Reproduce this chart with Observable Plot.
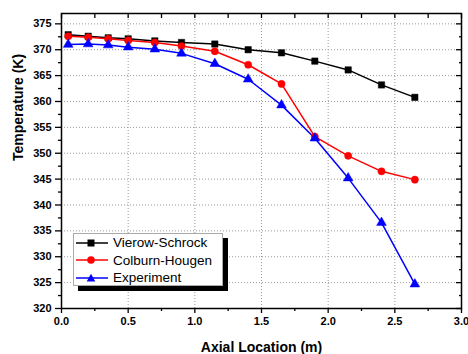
<!DOCTYPE html>
<html>
<head>
<meta charset="utf-8">
<script src="https://cdn.jsdelivr.net/npm/d3@7"></script>
<script src="https://cdn.jsdelivr.net/npm/@observablehq/plot@0.6"></script>
<style>
  body { margin: 0; background: #fff; }
  #wrap { position: relative; width: 468px; height: 354px; font-family: "Liberation Sans", Arial, sans-serif; }
  #legend { position: absolute; left: 73px; top: 233px; width: 150px; height: 53px; background: #fff; border: 1px solid #aaa; box-shadow: 5px 5px 0 #000; box-sizing: border-box; }
  .row { display: flex; align-items: center; height: 17.5px; font-size: 13.5px; line-height: 1; color: #000; }
  .row svg { margin-left: 1px; margin-right: 4px; }
</style>
</head>
<body>
<div id="wrap"></div>
<script>
// ---- data ----
const axialLocation = [0.05, 0.2, 0.35, 0.5, 0.7, 0.9, 1.15, 1.4, 1.65, 1.9, 2.15, 2.4, 2.65];
const vierowSchrock = [372.9, 372.6, 372.3, 372.1, 371.7, 371.4, 371.1, 370.0, 369.4, 367.8, 366.1, 363.2, 360.8];
const colburnHougen = [372.6, 372.4, 372.1, 371.8, 371.4, 370.7, 369.7, 367.1, 363.4, 353.2, 349.5, 346.5, 344.9];
const experiment    = [371.0, 371.1, 370.9, 370.5, 370.1, 369.3, 367.3, 364.3, 359.3, 352.9, 345.2, 336.6, 324.7];
const seriesNames = ["Vierow-Schrock", "Colburn-Hougen", "Experiment"];
const seriesColors = ["#000000", "#ff0000", "#0000ff"];
const seriesSymbols = ["square", "circle", "triangle"];
const xMajor = [0, 0.5, 1.0, 1.5, 2.0, 2.5, 3.0];
const xMinor = [0.25, 0.75, 1.25, 1.75, 2.25, 2.75];
const yMajor = [320, 325, 330, 335, 340, 345, 350, 355, 360, 365, 370, 375];
const yMinor = [322.5, 327.5, 332.5, 337.5, 342.5, 347.5, 352.5, 357.5, 362.5, 367.5, 372.5];

const seriesValues = [vierowSchrock, colburnHougen, experiment];
const rows = [];
seriesNames.forEach((name, i) => {
  axialLocation.forEach((x, j) => rows.push({ series: name, x, y: seriesValues[i][j] }));
});

const colorScale = { domain: seriesNames, range: seriesColors };
const font = "'Liberation Sans', Arial, sans-serif";

const chart = Plot.plot({
  width: 468,
  height: 354,
  marginLeft: 61,
  marginRight: 7,
  marginTop: 13,
  marginBottom: 46,
  style: { fontFamily: font, background: "#fff", color: "#000" },
  x: { domain: [0, 3] },
  y: { domain: [320, 377] },
  color: colorScale,
  symbol: { domain: seriesNames, range: seriesSymbols },
  marks: [
    Plot.gridX(xMajor, { stroke: "#999", strokeOpacity: 1, strokeDasharray: "1,2" }),
    Plot.gridY(yMajor, { stroke: "#999", strokeOpacity: 1, strokeDasharray: "1,2" }),
    Plot.line(rows, { x: "x", y: "y", z: "series", stroke: "series", strokeWidth: 1.5 }),
    Plot.dot(rows, { x: "x", y: "y", fill: "series", stroke: "series", symbol: "series", r: 3.6, strokeWidth: 0.5 }),
    Plot.frame({ stroke: "#000", strokeWidth: 1.5 }),
    // bottom / left outward ticks with labels
    Plot.axisX(xMajor, { anchor: "bottom", tickSize: 5, tickPadding: 4, tickFormat: d3.format(".1f"), fontWeight: "bold", fontSize: 11, label: null, strokeWidth: 1.3 }),
    Plot.axisX(xMinor, { anchor: "bottom", tickSize: 3, tickFormat: () => "", label: null, strokeWidth: 1.3 }),
    Plot.axisY(yMajor, { anchor: "left", tickSize: 6, tickPadding: 4, tickFormat: d3.format("d"), fontWeight: "bold", fontSize: 11, label: null, strokeWidth: 1.3 }),
    Plot.axisY(yMinor, { anchor: "left", tickSize: 3, tickFormat: () => "", label: null, strokeWidth: 1.3 }),
    // top / right inward ticks
    Plot.axisX(xMajor.concat(xMinor), { anchor: "top", tickSize: -4, tickFormat: () => "", label: null, strokeWidth: 1.3 }),
    Plot.axisY(yMajor, { anchor: "right", tickSize: -6, tickFormat: () => "", label: null, strokeWidth: 1.3 }),
    Plot.axisY(yMinor, { anchor: "right", tickSize: -3, tickFormat: () => "", label: null, strokeWidth: 1.3 }),
    // axis titles
    Plot.text(["Axial Location (m)"], { frameAnchor: "bottom", dy: 43, fontWeight: "bold", fontSize: 14, fill: "#000" }),
    Plot.text(["Temperature (K)"], { frameAnchor: "left", dx: -43, rotate: -90, fontWeight: "bold", fontSize: 14, fill: "#000" })
  ]
});

const wrap = document.getElementById("wrap");
wrap.appendChild(chart);

// legend (HTML overlay)
const legend = document.createElement("div");
legend.id = "legend";
const shapeFor = (sym, color) => {
  if (sym === "square") return `<rect x="12.5" y="1.5" width="7" height="7" fill="${color}"/>`;
  if (sym === "circle") return `<circle cx="16" cy="5" r="3.8" fill="${color}"/>`;
  return `<path d="M16,0.8 L20.3,8.6 L11.7,8.6 Z" fill="${color}"/>`;
};
seriesNames.forEach((name, i) => {
  const row = document.createElement("div");
  row.className = "row";
  row.innerHTML = `<svg width="34" height="10" viewBox="0 0 34 10"><line x1="1" y1="5" x2="33" y2="5" stroke="${seriesColors[i]}" stroke-width="1.5"/>${shapeFor(seriesSymbols[i], seriesColors[i])}</svg><span>${name}</span>`;
  legend.appendChild(row);
});
wrap.appendChild(legend);
</script>
</body>
</html>
